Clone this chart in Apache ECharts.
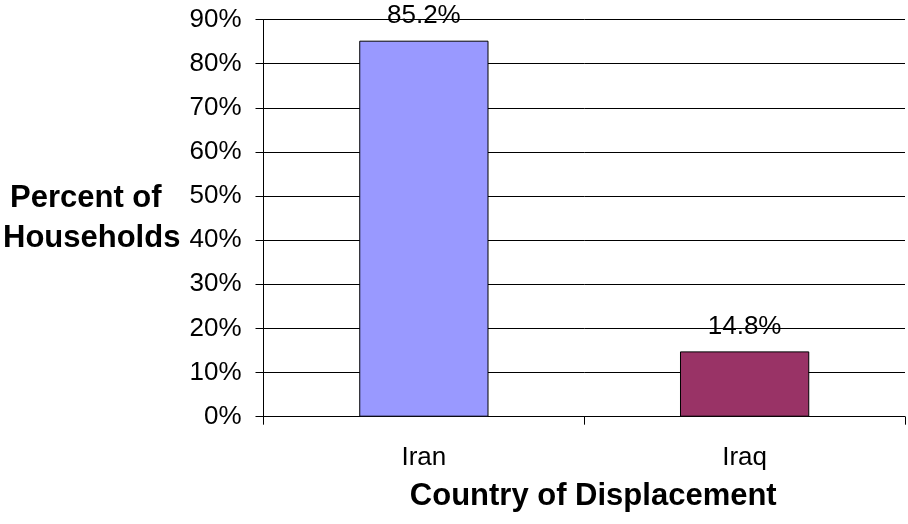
<!DOCTYPE html>
<html>
<head>
<meta charset="utf-8">
<script src="https://cdn.jsdelivr.net/npm/echarts@6/dist/echarts.min.js"></script>
<style>
html,body{margin:0;padding:0;background:#fff;}
#chart{width:908px;height:524px;}
</style>
</head>
<body>
<div id="chart"></div>
<script>
const categories = ['Iran', 'Iraq'];
const values = [0.852, 0.148];
const barColors = ['#9999FF', '#993366'];
const yTitleLines = ['Percent of', 'Households'];
const xTitle = 'Country of Displacement';

const chart = echarts.init(document.getElementById('chart'));
const font = 'Arial, "Liberation Sans", sans-serif';
chart.setOption({
  animation: false,
  backgroundColor: '#fff',
  grid: { left: 263.5, right: 3, top: 19.5, bottom: 107.3 },
  xAxis: {
    type: 'category',
    data: categories,
    boundaryGap: true,
    axisLine: { lineStyle: { color: '#000', width: 1 } },
    axisTick: { show: true, length: 8, lineStyle: { color: '#000' } },
    axisLabel: { color: '#000', fontSize: 26, fontFamily: font, margin: 28 },
    name: xTitle,
    nameLocation: 'middle',
    nameGap: 64,
    nameTextStyle: { color: '#000', fontSize: 31, fontWeight: 'bold', fontFamily: font, padding: [0, 0, 0, 18] }
  },
  yAxis: {
    type: 'value',
    min: 0, max: 0.9, interval: 0.1,
    axisLine: { show: true, lineStyle: { color: '#000', width: 1 } },
    axisTick: { show: true, length: 8, lineStyle: { color: '#000' } },
    splitLine: { show: true, lineStyle: { color: '#000', width: 1 } },
    axisLabel: {
      color: '#000', fontSize: 26, fontFamily: font, margin: 22,
      formatter: v => Math.round(v * 100) + '%'
    }
  },
  graphic: [
    { type: 'text', left: 10, top: 182.5, style: { text: yTitleLines[0], font: 'bold 31px ' + font, fill: '#000' } },
    { type: 'text', left: 3, top: 223, style: { text: yTitleLines[1], font: 'bold 31px ' + font, fill: '#000' } }
  ],
  series: [{
    type: 'bar',
    barWidth: '40.3%',
    data: values.map((v, i) => ({ value: v, itemStyle: { color: barColors[i] } })),
    itemStyle: { borderColor: '#000', borderWidth: 1 },
    label: {
      show: true, position: 'top', distance: 12,
      color: '#000', fontSize: 26, fontFamily: font,
      formatter: p => (p.value * 100).toFixed(1) + '%'
    }
  }]
});
</script>
</body>
</html>
